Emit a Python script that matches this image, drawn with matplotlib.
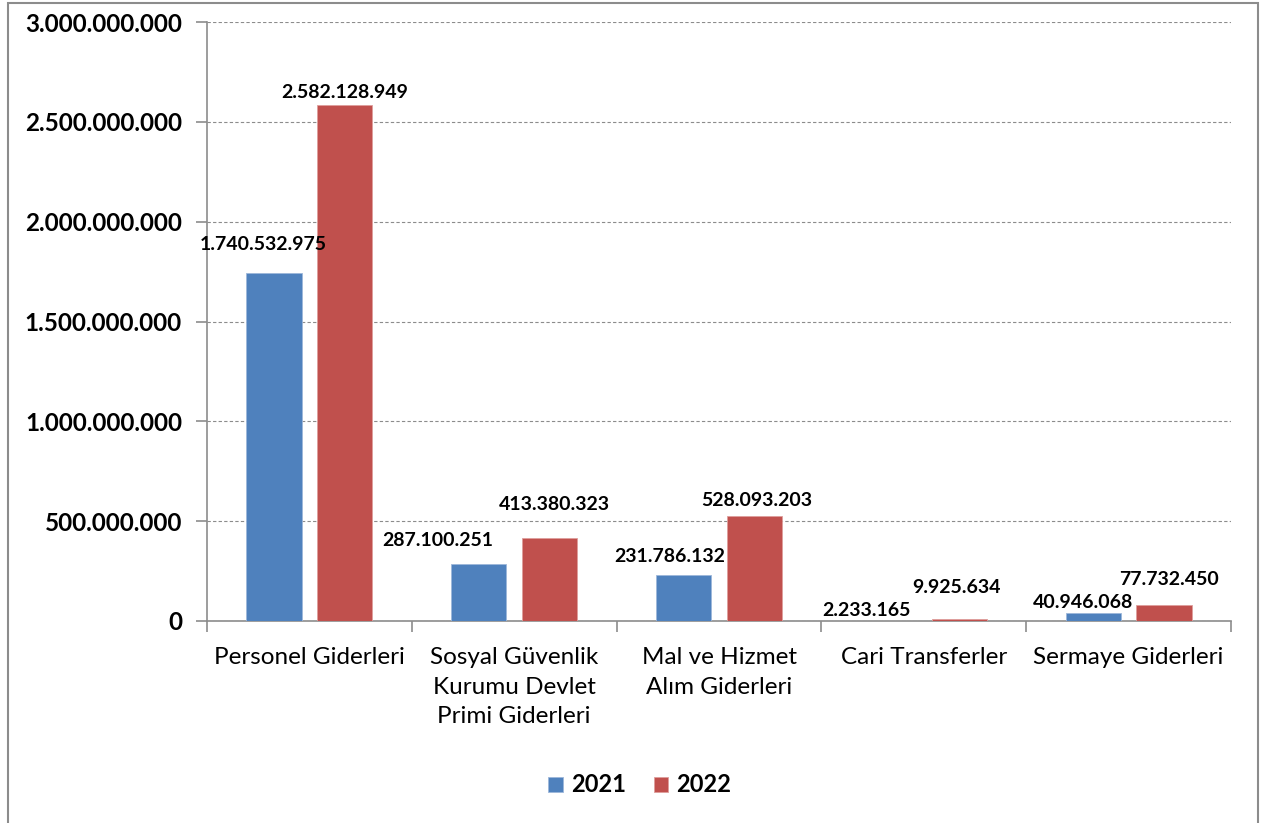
import matplotlib.pyplot as plt
import numpy as np
from matplotlib.patches import Rectangle

categories = ['Personel Giderleri',
              'Sosyal Güvenlik\nKurumu Devlet\nPrimi Giderleri',
              'Mal ve Hizmet\nAlım Giderleri',
              'Cari Transferler',
              'Sermaye Giderleri']
years = ['2021', '2022']
values_2021 = [1740532975, 287100251, 231786132, 2233165, 40946068]
values_2022 = [2582128949, 413380323, 528093203, 9925634, 77732450]
y_ticks = [0, 500000000, 1000000000, 1500000000, 2000000000, 2500000000, 3000000000]

# label offsets (pixels) from bar top centre, Excel put them a bit oddly
offsets_2021 = [(-11, 29), (-41, 23), (-14, 18), (-22, 10), (-10, 10)]
offsets_2022 = [(0, 13), (5, 34), (2, 15), (-3, 32), (5, 26)]

BLUE = '#4F81BD'
RED = '#C0504D'
FONT = ['Lato', 'DejaVu Sans']


def fmt_tr(v):
    return f'{int(v):,}'.replace(',', '.')


plt.rcParams['font.family'] = FONT

fig = plt.figure(figsize=(12.66, 8.23), dpi=100)
ax = fig.add_axes([207 / 1266, 1 - 621 / 823, 1024 / 1266, 599 / 823])

x = np.arange(len(categories))
w = 0.27
off = 0.173
b1 = ax.bar(x - off, values_2021, w, color=BLUE, edgecolor='#9DB7DA', linewidth=0.6, label=years[0], zorder=3)
b2 = ax.bar(x + off, values_2022, w, color=RED, edgecolor='#DE9E9C', linewidth=0.6, label=years[1], zorder=3)

for bars, offs in ((b1, offsets_2021), (b2, offsets_2022)):
    for rect, (dx, dy) in zip(bars, offs):
        ax.annotate(fmt_tr(rect.get_height()),
                    (rect.get_x() + rect.get_width() / 2, rect.get_height()),
                    xytext=(dx, dy), textcoords='offset pixels',
                    ha='center', va='center', fontsize=14, fontweight='bold', zorder=4)

ax.set_xlim(-0.5, len(categories) - 0.5)
ax.set_ylim(0, 3000000000)
ax.set_yticks(y_ticks)
ax.set_yticklabels([fmt_tr(t) for t in y_ticks], fontsize=17.5, fontweight='bold')
ax.yaxis.grid(True, linestyle=(0, (3, 2)), color='#8C8C8C', linewidth=0.8, zorder=0)

ax.set_xticks(x)
ax.set_xticklabels(categories, fontsize=17.5, linespacing=1.5)
ax.tick_params(axis='x', length=0, pad=19)
ax.set_xticks(np.arange(len(categories) + 1) - 0.5, minor=True)
ax.tick_params(axis='x', which='minor', length=8, color='#8C8C8C', width=1.2)
ax.tick_params(axis='y', length=8, color='#8C8C8C', width=1.2, pad=10)

for s in ('top', 'right'):
    ax.spines[s].set_visible(False)
for s in ('left', 'bottom'):
    ax.spines[s].set_color('#8C8C8C')
    ax.spines[s].set_linewidth(1.2)

leg = fig.legend(handles=[b1, b2], labels=years, loc='center', bbox_to_anchor=(640 / 1266, 1 - 785 / 823),
                 ncol=2, frameon=False, prop={'family': FONT, 'weight': 'bold', 'size': 17},
                 handlelength=0.6, handleheight=0.6, handletextpad=0.35, columnspacing=1.2)

fig.patches.append(Rectangle((8 / 1266, -0.02), 1250 / 1266, 1.0 - 3 / 823 + 0.02,
                             transform=fig.transFigure, fill=False, edgecolor='#8C8C8C', linewidth=1.5))

fig.savefig('out.png', dpi=100)
